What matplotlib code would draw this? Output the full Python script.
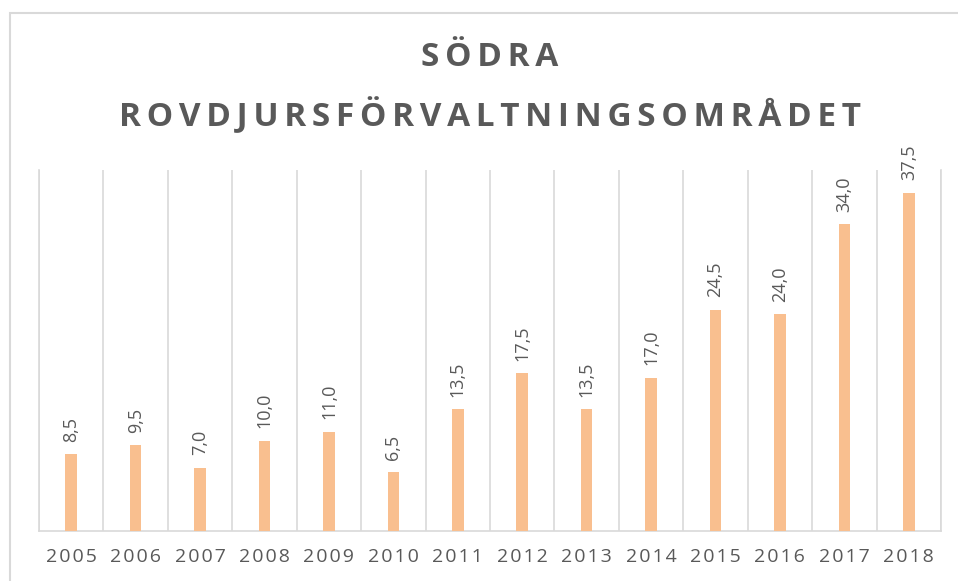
import numpy as np
import matplotlib
matplotlib.use("Agg")
import matplotlib.pyplot as plt
from matplotlib.patches import Rectangle

years = ["2005", "2006", "2007", "2008", "2009", "2010", "2011",
         "2012", "2013", "2014", "2015", "2016", "2017", "2018"]
values = [8.5, 9.5, 7.0, 10.0, 11.0, 6.5, 13.5,
          17.5, 13.5, 17.0, 24.5, 24.0, 34.0, 37.5]
title_lines = ["SÖDRA", "ROVDJURSFÖRVALTNINGSOMRÅDET"]

GRAY = "#595959"
GRID = "#D9D9D9"
BAR = "#F9BF8F"
FONT = ["Open Sans", "DejaVu Sans"]


def spaced(s, sep="\u200a"):
    # Excel-style letter spacing
    return sep.join(s)


plt.rcParams["font.family"] = FONT

fig = plt.figure(figsize=(9.58, 5.81), dpi=100)
ax = fig.add_axes([39 / 958, 50 / 581, 902 / 958, 361 / 581])

x = np.arange(len(years))
ax.bar(x, values, width=0.18, color=BAR, zorder=3)

for xi, v in zip(x, values):
    ax.annotate(f"{v:.1f}".replace(".", ","), (xi, v), xytext=(0, 9),
                textcoords="offset points", rotation=90, ha="center",
                va="bottom", fontsize=13, color=GRAY)

ax.set_xlim(-0.5, len(years) - 0.5)
ax.set_ylim(0, 40)
ax.set_yticks([])
ax.set_xticks(x)
ax.set_xticklabels([spaced(y) for y in years], fontsize=14, color=GRAY)
ax.set_xticks(np.arange(-0.5, len(years)), minor=True)
ax.tick_params(axis="x", which="both", length=0, pad=12)
ax.grid(True, which="minor", axis="x", color=GRID, lw=1.2, zorder=0)
ax.spines["top"].set_visible(False)
for s in ("left", "right", "bottom"):
    ax.spines[s].set_color(GRID)
    ax.spines[s].set_linewidth(1.2)

fig.text(490 / 958, 1 - 58 / 581, spaced(title_lines[0], "\u2006"),
         ha="center", va="center", fontsize=24, fontweight="bold", color=GRAY)
fig.text(490 / 958, 1 - 116 / 581, spaced(title_lines[1], "\u2006"),
         ha="center", va="center", fontsize=24, fontweight="bold", color=GRAY)

fig.patches.append(Rectangle((10 / 958, -0.1), 2, 1 - 13 / 581 + 0.1,
                             transform=fig.transFigure, fill=False,
                             ec=GRID, lw=1.5))

fig.savefig("out.png", dpi=100)
